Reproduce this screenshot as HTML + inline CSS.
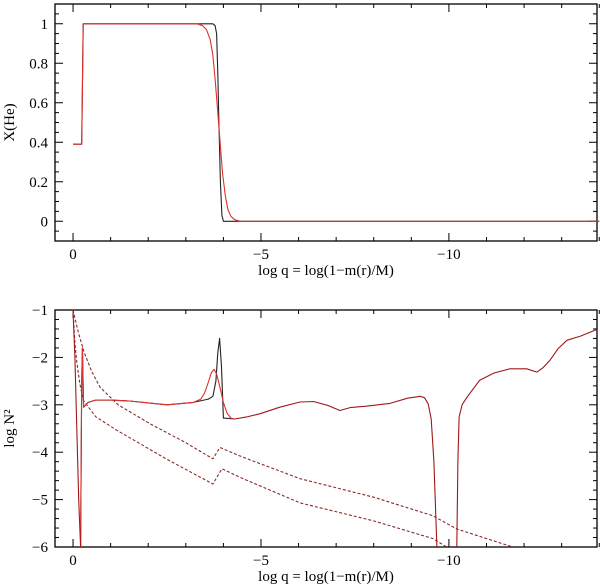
<!DOCTYPE html>
<html><head><meta charset="utf-8">
<style>
body{margin:0;background:#fff;}
svg{display:block;font-family:"Liberation Serif",serif;}
</style></head>
<body>
<svg id="c" width="600" height="588"></svg>
<script>
const xTicksMajor=[0,-5,-10];
const xTickLabels=["0","\u22125","\u221210"];
const topYTicks=[0,0.2,0.4,0.6,0.8,1];
const topYLabels=["0","0.2","0.4","0.6","0.8","1"];
const botYTicks=[-1,-2,-3,-4,-5,-6];
const botYLabels=["\u22121","\u22122","\u22123","\u22124","\u22125","\u22126"];
const heBlackX=[0,-0.23,-0.27,-3.72,-3.78,-3.82,-3.85,-3.88,-3.92,-3.96,-4.0,-14];
const heBlackY=[0.39,0.39,1,1,0.99,0.95,0.75,0.5,0.2,0.03,0,0];
const heRedX=[0,-0.23,-0.27,-3.3,-3.45,-3.55,-3.65,-3.72,-3.78,-3.85,-3.92,-3.98,-4.05,-4.12,-4.2,-4.3,-4.45,-14];
const heRedY=[0.39,0.39,1,1,0.99,0.97,0.92,0.84,0.72,0.55,0.38,0.24,0.13,0.06,0.025,0.008,0,0];
const n2CommonX=[-4.3,-4.6,-4.97,-5.5,-6.04,-6.4,-6.8,-7.1,-7.37,-7.8,-8.43,-8.9,-9.23,-9.35,-9.45,-9.53,-9.6,-9.68];
const n2CommonY=[-3.3,-3.26,-3.19,-3.05,-2.94,-2.93,-3.02,-3.12,-3.06,-3.03,-2.97,-2.86,-2.82,-2.85,-2.98,-3.3,-4.2,-6];
const n2TailX=[-10.21,-10.24,-10.27,-10.35,-10.48,-10.82,-11.2,-11.62,-12.07,-12.34,-12.5,-12.69,-12.9,-13.14,-13.5,-13.94];
const n2TailY=[-6,-4.2,-3.26,-3.0,-2.84,-2.48,-2.33,-2.24,-2.24,-2.31,-2.22,-2.06,-1.82,-1.64,-1.55,-1.41];
const n2BlackX=[-0.2,-0.23,-0.25,-0.28,-0.4,-0.6,-1.0,-1.5,-2.5,-3.2,-3.6,-3.72,-3.8,-3.85,-3.9,-3.95,-4.0,-4.3];
const n2BlackY=[-6,-2.5,-1.8,-3.05,-2.95,-2.9,-2.9,-2.92,-3.0,-2.95,-2.88,-2.82,-2.5,-1.9,-1.6,-2.2,-3.28,-3.3];
const n2RedX=[-0.2,-0.23,-0.25,-0.28,-0.4,-0.6,-1.0,-1.5,-2.5,-3.2,-3.4,-3.5,-3.6,-3.68,-3.75,-3.82,-3.9,-4.0,-4.1,-4.2,-4.3];
const n2RedY=[-6,-2.5,-1.8,-3.05,-2.95,-2.9,-2.9,-2.92,-3.0,-2.95,-2.88,-2.75,-2.52,-2.32,-2.25,-2.35,-2.6,-2.95,-3.18,-3.28,-3.3];
const n2StartX=[0,-0.05,-0.1,-0.15,-0.2];
const n2StartY=[-1,-2,-3.5,-5,-6];
const dotUpX=[0,-0.15,-0.3,-0.5,-0.72,-1.2,-2.05,-3.0,-3.72,-3.91,-4.5,-6.04,-8,-9.57,-10.21,-11.7];
const dotUpY=[-1,-1.5,-1.9,-2.3,-2.63,-3.0,-3.4,-3.8,-4.14,-3.9,-4.1,-4.56,-4.95,-5.34,-5.62,-6];
const dotLoX=[0,-0.05,-0.1,-0.18,-0.27,-0.6,-1.17,-2.5,-3.72,-3.96,-4.5,-6.04,-8,-9.57,-9.94];
const dotLoY=[-1,-1.7,-2.1,-2.55,-2.9,-3.25,-3.54,-4.15,-4.67,-4.35,-4.55,-5.07,-5.45,-5.82,-6];

const NS="http://www.w3.org/2000/svg";
const svg=document.getElementById('c');
const X0=55,X1=597,XD0=0.48,XD1=-13.94;
function sx(v){return X0+(v-XD0)/(XD1-XD0)*(X1-X0);}
function mk(tag,attrs,parent){const e=document.createElementNS(NS,tag);for(const k in attrs)e.setAttribute(k,attrs[k]);(parent||svg).appendChild(e);return e;}
function panel(name,T,B,Y0,Y1,yt,yl,ylab,minorStep){
  const g=mk('g',{});
  
  
  const sy=v=>B+(v-Y0)/(Y1-Y0)*(T-B);
  const fr=mk('rect',{x:X0,y:T,width:X1-X0,height:B-T,fill:'none',stroke:'#000','stroke-width':1.3},g);
  
  
  for(let v=0;v>=-14;v-=1){const maj=v%5===0;const L=maj?8:4;
    mk('line',{x1:sx(v),x2:sx(v),y1:B,y2:B-L,stroke:'#000'},g);
    mk('line',{x1:sx(v),x2:sx(v),y1:T,y2:T+L,stroke:'#000'},g);}
  xTicksMajor.forEach((v,i)=>{const t=mk('text',{x:sx(v),y:B+18,'font-size':15,'text-anchor':'middle'},g);t.textContent=xTickLabels[i];
    
    });
  const lo=Math.min(Y0,Y1),hi=Math.max(Y0,Y1);
  for(let v=Math.ceil(lo/minorStep-1e-6)*minorStep;v<=hi+1e-9;v+=minorStep){
    const maj=yt.some(t=>Math.abs(t-v)<1e-6);const L=maj?8:4;
    mk('line',{x1:X0,x2:X0+L,y1:sy(v),y2:sy(v),stroke:'#000'},g);
    mk('line',{x1:X1,x2:X1-L,y1:sy(v),y2:sy(v),stroke:'#000'},g);}
  yt.forEach((v,i)=>{const t=mk('text',{x:X0-7,y:sy(v)+5,'font-size':15,'text-anchor':'end'},g);t.textContent=yl[i];
    
    });
  const xl=mk('text',{x:326,y:B+34,'font-size':15,'text-anchor':'middle'},g);
  xl.textContent='log q = log(1\u2212m(r)/M)';
  
  
  const yl2=mk('text',{x:14,y:(T+B)/2,'font-size':15,'text-anchor':'middle',transform:`rotate(-90 14 ${(T+B)/2})`},g);
  yl2.textContent=ylab;
  
  
  return {g,sy,T,B};
}
function line(p,xs,ys,color,name,dash){
  const d=xs.map((x,i)=>(i?'L':'M')+sx(x).toFixed(1)+' '+p.sy(ys[i]).toFixed(1)).join(' ');
  const a={d:d,fill:'none',stroke:color,'stroke-width':1.1,'stroke-linejoin':'round'};
  if(dash)a['stroke-dasharray']=dash;
  const e=mk('path',a,p.g);
  
  
}
const p1=panel('top-panel',4,241,-0.1,1.1,topYTicks,topYLabels,'X(He)',0.05);
line(p1,heBlackX,heBlackY,'#222','xhe-black-line');
line(p1,heRedX,heRedY,'#e0302a','xhe-red-line');
const p2=panel('bottom-panel',310,547,-6,-1,botYTicks,botYLabels,'log N\u00b2',0.2);
line(p2,dotUpX,dotUpY,'#8a2a2a','lamb-upper-dotted','3 2');
line(p2,dotLoX,dotLoY,'#8a2a2a','lamb-lower-dotted','3 2');
line(p2,n2BlackX,n2BlackY,'#222','n2-black-line');
line(p2,n2RedX,n2RedY,'#e0302a','n2-red-line');
line(p2,n2StartX,n2StartY,'#a01818','n2-start-line');
line(p2,n2CommonX,n2CommonY,'#a01818','n2-common-line');
line(p2,n2TailX,n2TailY,'#a01818','n2-tail-line');
</script>
</body></html>
